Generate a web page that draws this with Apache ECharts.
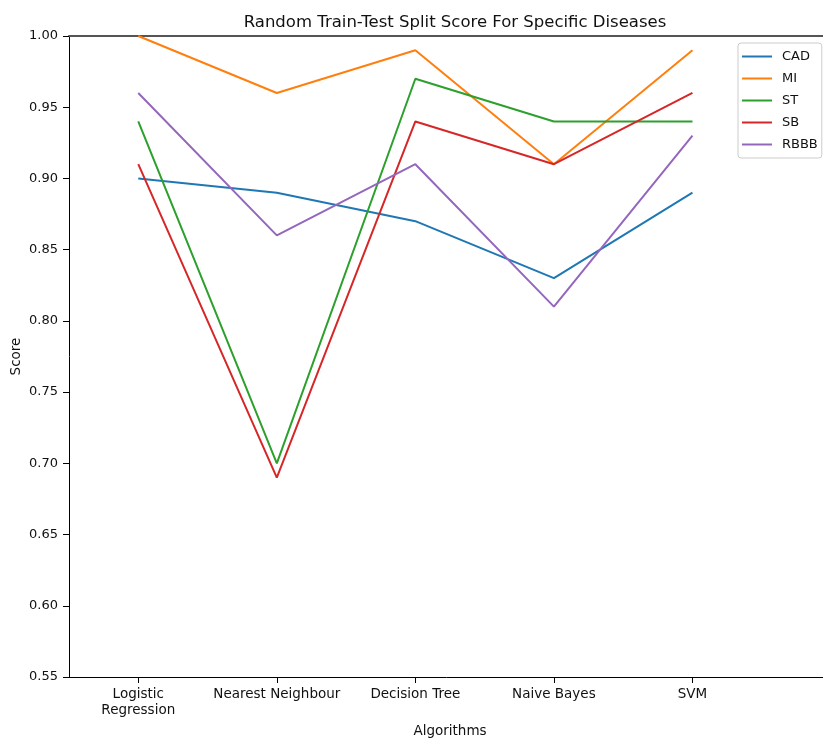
<!DOCTYPE html>
<html>
<head>
<meta charset="utf-8">
<script src="https://cdn.jsdelivr.net/npm/echarts@6/dist/echarts.min.js"></script>
<style>
  html, body { margin: 0; padding: 0; background: #fff; }
  #chart { width: 823px; height: 738px; }
</style>
</head>
<body>
<div id="chart"></div>
<script>
const algorithms = ['Logistic\nRegression', 'Nearest Neighbour', 'Decision Tree', 'Naive Bayes', 'SVM'];
const seriesNames = ['CAD', 'MI', 'ST', 'SB', 'RBBB'];
const cad = [0.90, 0.89, 0.87, 0.83, 0.89];
const mi = [1.00, 0.96, 0.99, 0.91, 0.99];
const st = [0.94, 0.70, 0.97, 0.94, 0.94];
const sb = [0.91, 0.69, 0.94, 0.91, 0.96];
const rbbb = [0.96, 0.86, 0.91, 0.81, 0.93];

const colors = ['#1f77b4', '#ff7f0e', '#2ca02c', '#d62728', '#9467bd'];
const values = [cad, mi, st, sb, rbbb];
const font = 'DejaVu Sans';
const tickPos = algorithms.map((a, i) => i);

const chart = echarts.init(document.getElementById('chart'));
const option = {
  animation: false,
  color: colors,
  textStyle: { fontFamily: font },
  title: {
    text: 'Random Train-Test Split Score For Specific Diseases',
    left: 450, top: 9, textAlign: 'center',
    textStyle: { fontFamily: font, fontSize: 16.5, fontWeight: 'normal', color: '#111' }
  },
  legend: {
    orient: 'vertical',
    left: 738, top: 43,
    padding: [6, 4, 6, 4],
    itemGap: 7,
    itemWidth: 30, itemHeight: 2,
    icon: 'rect',
    borderColor: '#cccccc', borderWidth: 1, borderRadius: 3,
    backgroundColor: '#fff',
    textStyle: { fontFamily: font, fontSize: 13, color: '#111', lineHeight: 15, padding: [0, 0, 0, 5] },
    data: seriesNames
  },
  grid: { left: 69, right: -8, top: 36, bottom: 61, containLabel: false, outerBoundsMode: 'none' },
  xAxis: [{
    type: 'value', min: -0.5, max: 5,
    name: 'Algorithms', nameLocation: 'middle', nameGap: 47, nameMoveOverlap: false,
    nameTextStyle: { fontFamily: font, fontSize: 13.5, color: '#111' },
    splitLine: { show: false },
    axisLine: { onZero: false, lineStyle: { color: '#000', width: 1 } },
    axisTick: { length: 6, lineStyle: { color: '#000' }, customValues: tickPos },
    axisLabel: {
      customValues: tickPos,
      formatter: v => algorithms[Math.round(v)] || '',
      fontFamily: font, fontSize: 13.5, color: '#111', margin: 9, lineHeight: 16
    }
  }, {
    type: 'value', min: -0.5, max: 5, position: 'top',
    splitLine: { show: false },
    axisLine: { onZero: false, lineStyle: { color: '#555', width: 2 } },
    axisTick: { show: false }, axisLabel: { show: false }
  }],
  yAxis: {
    type: 'value', min: 0.55, max: 1.0, interval: 0.05,
    name: 'Score', nameLocation: 'middle', nameGap: 46, nameMoveOverlap: false,
    nameTextStyle: { fontFamily: font, fontSize: 13.5, color: '#111' },
    splitLine: { show: false },
    axisLine: { show: true, onZero: false, lineStyle: { color: '#000', width: 1 } },
    axisTick: { show: true, length: 6, lineStyle: { color: '#000' } },
    axisLabel: {
      fontFamily: font, fontSize: 13, color: '#111', margin: 11,
      formatter: v => v.toFixed(2)
    }
  },
  series: seriesNames.map((name, i) => ({
    name: name,
    type: 'line',
    showSymbol: false,
    symbol: 'none',
    lineStyle: { width: 2, color: colors[i] },
    data: values[i].map((v, j) => [j, v])
  }))
};
chart.setOption(option);
</script>
</body>
</html>
